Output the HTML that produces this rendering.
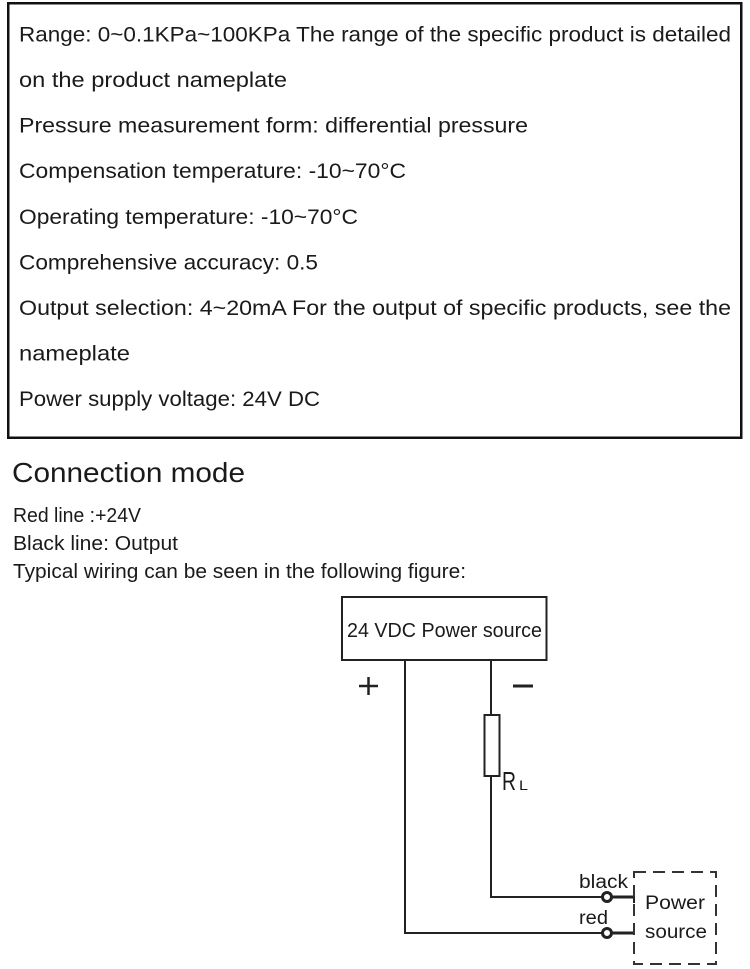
<!DOCTYPE html>
<html>
<head>
<meta charset="utf-8">
<style>
  html, body { margin: 0; padding: 0; background: #ffffff; }
  body { width: 750px; height: 969px; overflow: hidden; }
  svg { display: block; }
  text { font-family: "Liberation Sans", "Noto Sans CJK SC", sans-serif; fill: #1a1a1a; }
</style>
</head>
<body>
<svg width="750" height="969" viewBox="0 0 750 969" xmlns="http://www.w3.org/2000/svg">
  <rect x="0" y="0" width="750" height="969" fill="#ffffff"/>

  <!-- Top spec box -->
  <rect x="8.25" y="3.25" width="733" height="434.5" fill="none" stroke="#111" stroke-width="2.5"/>

  <g font-size="21">
    <text x="19" y="41.5" textLength="712" lengthAdjust="spacingAndGlyphs">Range: 0~0.1KPa~100KPa The range of the specific product is detailed</text>
    <text x="19" y="87" textLength="268" lengthAdjust="spacingAndGlyphs">on the product nameplate</text>
    <text x="19" y="132.5" textLength="509" lengthAdjust="spacingAndGlyphs">Pressure measurement form: differential pressure</text>
    <text x="19" y="178" textLength="387" lengthAdjust="spacingAndGlyphs">Compensation temperature: -10~70°C</text>
    <text x="19" y="224" textLength="339" lengthAdjust="spacingAndGlyphs">Operating temperature: -10~70°C</text>
    <text x="19" y="269.5" textLength="299" lengthAdjust="spacingAndGlyphs">Comprehensive accuracy: 0.5</text>
    <text x="19" y="315" textLength="712" lengthAdjust="spacingAndGlyphs">Output selection: 4~20mA For the output of specific products, see the</text>
    <text x="19" y="360.5" textLength="111" lengthAdjust="spacingAndGlyphs">nameplate</text>
    <text x="19" y="406" textLength="301" lengthAdjust="spacingAndGlyphs">Power supply voltage: 24V DC</text>
  </g>

  <!-- Connection mode section -->
  <text x="12" y="482" font-size="28" textLength="233" lengthAdjust="spacingAndGlyphs">Connection mode</text>
  <g font-size="20">
    <text x="13" y="522" textLength="128" lengthAdjust="spacingAndGlyphs">Red line :+24V</text>
    <text x="13" y="550" textLength="165" lengthAdjust="spacingAndGlyphs">Black line: Output</text>
    <text x="13" y="578" textLength="453" lengthAdjust="spacingAndGlyphs">Typical wiring can be seen in the following figure:</text>
  </g>

  <!-- Diagram -->
  <g stroke="#222" fill="none">
    <!-- power source box -->
    <rect x="342" y="597" width="204.5" height="63" stroke-width="2"/>
    <!-- left (+) wire -->
    <polyline points="405,660 405,933 602,933" stroke-width="2"/>
    <!-- right (-) wire to resistor -->
    <line x1="491" y1="660" x2="491" y2="715" stroke-width="2"/>
    <rect x="484.5" y="715" width="15" height="61" stroke-width="2"/>
    <polyline points="491,776 491,897 602,897" stroke-width="2"/>
    <!-- plus sign -->
    <line x1="359" y1="686" x2="378" y2="686" stroke-width="2.5"/>
    <line x1="368.5" y1="677" x2="368.5" y2="695" stroke-width="2.5"/>
    <!-- minus sign -->
    <line x1="513" y1="686" x2="533" y2="686" stroke-width="3"/>
    <!-- terminals -->
    <circle cx="607" cy="897" r="4.5" stroke-width="3" fill="#fff"/>
    <circle cx="607" cy="933" r="4.5" stroke-width="3" fill="#fff"/>
    <line x1="611.5" y1="897" x2="635" y2="897" stroke-width="3"/>
    <line x1="611.5" y1="933" x2="635" y2="933" stroke-width="3"/>
    <line x1="634" y1="896" x2="634" y2="903" stroke-width="2"/>
    <line x1="634" y1="927" x2="634" y2="934" stroke-width="2"/>
    <!-- dashed power source box -->
    <rect x="634" y="872" width="82" height="92" stroke-width="2" stroke="#333" stroke-dasharray="12 7"/>
  </g>

  <text x="347" y="637" font-size="20" textLength="195" lengthAdjust="spacingAndGlyphs">24 VDC Power source</text>
  <text x="502" y="790" font-size="26" textLength="14" lengthAdjust="spacingAndGlyphs">R</text>
  <text x="519" y="790" font-size="14" textLength="9" lengthAdjust="spacingAndGlyphs">L</text>
  <text x="579" y="888" font-size="19" textLength="49" lengthAdjust="spacingAndGlyphs">black</text>
  <text x="579" y="924" font-size="19" textLength="29" lengthAdjust="spacingAndGlyphs">red</text>
  <text x="645" y="909" font-size="19" textLength="60" lengthAdjust="spacingAndGlyphs">Power</text>
  <text x="645" y="938" font-size="19" textLength="62" lengthAdjust="spacingAndGlyphs">source</text>
</svg>
</body>
</html>
